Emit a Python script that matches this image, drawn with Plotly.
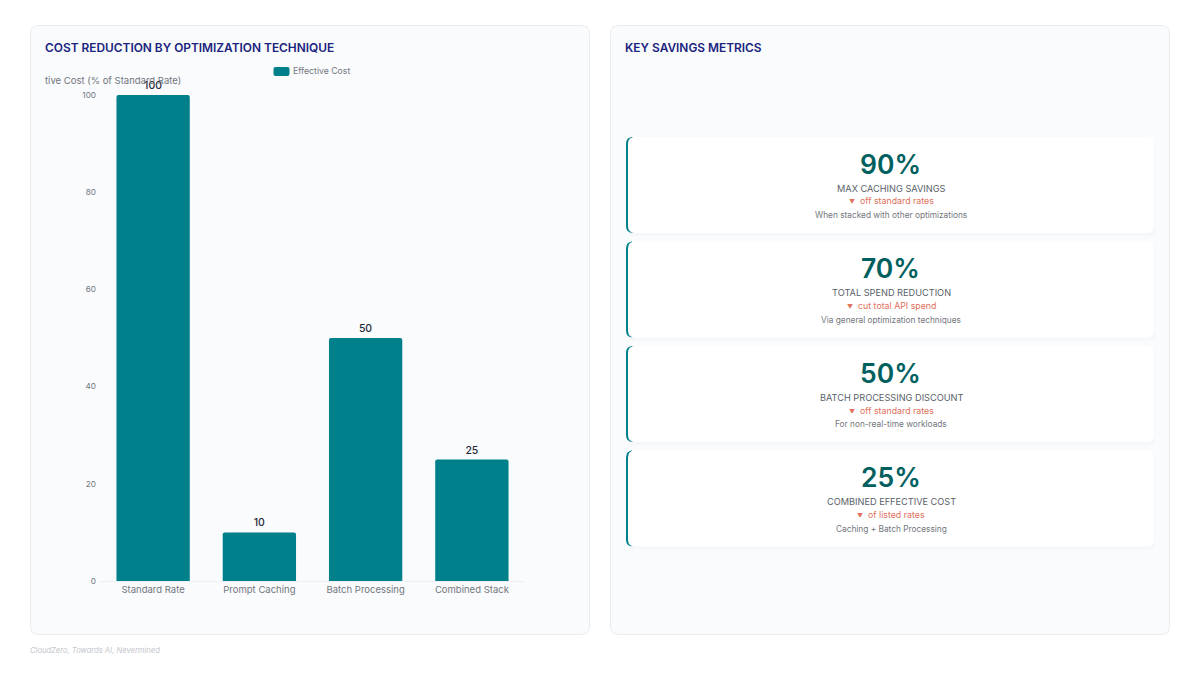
import plotly.graph_objects as go

W, H = 1200, 675

# chart data
categories = ["Standard Rate", "Prompt Caching", "Batch Processing", "Combined Stack"]
effective_cost = [100, 10, 50, 25]
y_ticks = [0, 20, 40, 60, 80, 100]

# metric cards
metric_values = ["90%", "70%", "50%", "25%"]
metric_labels = ["MAX CACHING SAVINGS", "TOTAL SPEND REDUCTION",
                 "BATCH PROCESSING DISCOUNT", "COMBINED EFFECTIVE COST"]
metric_deltas = ["off standard rates", "cut total API spend",
                 "off standard rates", "of listed rates"]
metric_notes = ["When stacked with other optimizations", "Via general optimization techniques",
                "For non-real-time workloads", "Caching + Batch Processing"]
card_tops = [137, 241.5, 346, 450.5]

FONT = "Inter, Noto Sans, sans-serif"
TEAL = "#00808a"
DARK_TEAL = "#00605f"
NAVY = "#1a237e"
GREY = "#72767d"


def px(x):
    return x / W


def py(y):
    return 1 - y / H


def round_rect(x0, y0, x1, y1, r):
    """Rounded rectangle path in paper coordinates, from page pixels"""
    return (
        f"M{px(x0 + r)},{py(y0)} L{px(x1 - r)},{py(y0)} "
        f"Q{px(x1)},{py(y0)} {px(x1)},{py(y0 + r)} L{px(x1)},{py(y1 - r)} "
        f"Q{px(x1)},{py(y1)} {px(x1 - r)},{py(y1)} L{px(x0 + r)},{py(y1)} "
        f"Q{px(x0)},{py(y1)} {px(x0)},{py(y1 - r)} L{px(x0)},{py(y0 + r)} "
        f"Q{px(x0)},{py(y0)} {px(x0 + r)},{py(y0)} Z"
    )


def label(x, y, text, size, color, anchor="center", weight=400, italic=False):
    fig.add_annotation(
        xref="paper", yref="paper", x=px(x), y=py(y), text=text, showarrow=False,
        xanchor=anchor, yanchor="middle", borderpad=0, borderwidth=0,
        font=dict(family=FONT, size=size, color=color, weight=weight,
                  style="italic" if italic else "normal"),
    )


fig = go.Figure()

fig.add_trace(go.Bar(
    x=categories,
    y=effective_cost,
    name="Effective Cost",
    marker=dict(color=TEAL, cornerradius=2, line_width=0),
    width=0.69,
    text=effective_cost,
    textposition="outside",
    cliponaxis=False,
    textfont=dict(family=FONT, size=10.5, color="#1f2937", weight=500),
))

# panels
for x0, x1 in [(30.5, 589.5), (610.5, 1169.5)]:
    fig.add_shape(type="path", path=round_rect(x0, 25.5, x1, 634.5, 8), xref="paper", yref="paper",
                  fillcolor="#f9fbfd", line=dict(color="#e9edf0", width=1), layer="below")

# cards
for top in card_tops:
    fig.add_shape(type="path", path=round_rect(628, top + 2, 1155, top + 99, 6), xref="paper", yref="paper",
                  fillcolor="#f5f7f9", line_width=0, layer="below")
    fig.add_shape(type="path", path=round_rect(626, top, 637, top + 96, 7), xref="paper", yref="paper",
                  fillcolor=TEAL, line_width=0, layer="below")
    fig.add_shape(type="path", path=round_rect(628, top, 1154, top + 96, 7), xref="paper", yref="paper",
                  fillcolor="#ffffff", line_width=0, layer="below")

# legend key, same proportions as the reference
fig.add_shape(type="path", path=round_rect(273.5, 67, 289.5, 76, 2), xref="paper", yref="paper",
              fillcolor=TEAL, line_width=0)
label(292.5, 71, "Effective Cost", 8.7, GREY, "left")

label(45, 47.5, "COST REDUCTION BY OPTIMIZATION TECHNIQUE", 11.9, NAVY, "left", 600)
label(625, 47.5, "KEY SAVINGS METRICS", 11.9, NAVY, "left", 600)
label(45, 80.5, "tive Cost (% of Standard Rate)", 9.5, GREY, "left")
label(30, 650.5, "CloudZero, Towards AI, Nevermined", 7.6, "#c2c6cc", "left", italic=True)

for top, value, name, delta, note in zip(card_tops, metric_values, metric_labels, metric_deltas, metric_notes):
    label(890.5, top + 26.5, value, 26.5, DARK_TEAL, weight=600)
    label(891, top + 51, name, 9.2, "#5a5f69")
    label(891, top + 64, f'<span style="font-size:6px">▼</span>  {delta}', 8.8, "#e0705c")
    label(891, top + 78, note, 8.3, GREY)

fig.update_layout(
    width=W,
    height=H,
    margin=dict(l=0, r=0, t=0, b=0),
    paper_bgcolor="#ffffff",
    plot_bgcolor="rgba(0,0,0,0)",
    showlegend=False,
    xaxis=dict(
        domain=[px(100), px(525)],
        automargin=False,
        showgrid=False,
        showline=True,
        linecolor="#eef1f4",
        ticks="",
        tickfont=dict(family=FONT, size=9.5, color=GREY),
    ),
    yaxis=dict(
        domain=[py(581), py(95)],
        range=[0, 100],
        automargin=False,
        tickvals=y_ticks,
        showgrid=False,
        zeroline=False,
        ticks="",
        ticklabelstandoff=3,
        tickfont=dict(family=FONT, size=8.2, color=GREY),
    ),
)

fig.write_html("out.html", config={"displayModeBar": False}, post_script="document.body.style.margin='0';")
